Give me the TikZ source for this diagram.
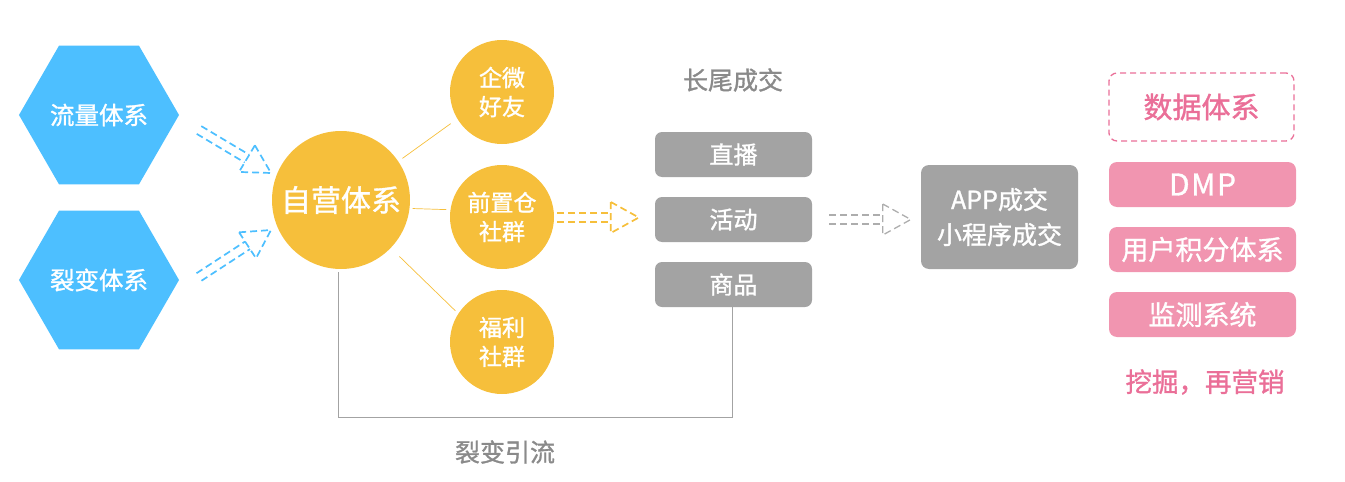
\documentclass[tikz,border=0pt]{standalone}
\usepackage{fontspec}
\setmainfont{Noto Sans CJK SC}[FakeBold=1.2]
\usetikzlibrary{shapes.geometric,calc}
\definecolor{hexblue}{HTML}{4DBFFF}
\definecolor{gold}{HTML}{F6BF3B}
\definecolor{boxgray}{HTML}{A3A3A3}
\definecolor{labgray}{HTML}{8A8A8A}
\definecolor{pinkfill}{HTML}{F195B0}
\definecolor{pinktext}{HTML}{EA6F98}
\definecolor{arrowgray}{HTML}{ADADAD}
\newcommand{\fsz}[2]{\fontsize{#1}{#2}\selectfont}
\newcommand{\hollowarrow}[3]{%
  \coordinate (ha-b) at ($(#3)!28pt!(#2)$);
  \draw[hol,#1] ($(#2)!4.5pt!90:(#3)$) -- ($(ha-b)!4.5pt!90:(#3)$);
  \draw[hol,#1] ($(#2)!4.5pt!-90:(#3)$) -- ($(ha-b)!4.5pt!-90:(#3)$);
  \draw[hol,#1] ($(ha-b)!15.5pt!90:(#3)$) -- (#3) -- ($(ha-b)!15.5pt!-90:(#3)$) -- cycle;
}
\tikzset{
  hexnode/.style={regular polygon, regular polygon sides=6, minimum size=156pt, inner sep=0pt, fill=hexblue, text=white, font=\fsz{24.5}{30}},
  bigcirc/.style={circle, minimum size=138pt, inner sep=0pt, fill=gold, text=white, font=\fsz{30}{36}},
  smallcirc/.style={circle, minimum size=104pt, inner sep=0pt, fill=gold, text=white, font=\fsz{23}{29}, align=center},
  graybox/.style={rounded corners=7pt, fill=boxgray, minimum width=157pt, minimum height=45pt, inner sep=0pt, text=white, font=\fsz{24}{30}},
  appbox/.style={rounded corners=8pt, fill=boxgray, minimum width=157pt, minimum height=104pt, inner sep=0pt, text=white, font=\fsz{25}{35}, align=center},
  pinkbox/.style={rounded corners=8pt, fill=pinkfill, minimum width=187pt, minimum height=45pt, inner sep=0pt, text=white, font=\fsz{27}{32}},
  pinkdash/.style={rounded corners=8pt, draw=pinktext, dash pattern=on 6pt off 4pt, line width=1.3pt, minimum width=185pt, minimum height=68pt, inner sep=0pt, text=pinktext, font=\fsz{29}{34}},
  graylabel/.style={text=labgray, font=\fsz{25}{30}},
  pinklabel/.style={text=pinktext, font=\fsz{26.5}{32}},
  spoke/.style={draw=gold, line width=0.7pt},
  bracket/.style={draw=boxgray, line width=1pt},
  hol/.style={dash pattern=on 7pt off 4pt, line width=1.7pt, line join=miter},
}
\begin{document}
\begin{tikzpicture}[x=1pt,y=-1pt]
\useasboundingbox (0,0) rectangle (1345,482);
% left hexagons
\node[hexnode] (hex1) at (99,115) {流量体系};
\node[hexnode] (hex2) at (99,280) {裂变体系};
% central circle
\node[bigcirc] (zy) at (341,200) {自营体系};
% small circles
\node[smallcirc] (qw) at (502,92) {企微\\好友};
\node[smallcirc] (qz) at (502,217) {前置仓\\社群};
\node[smallcirc] (fl) at (502,342) {福利\\社群};
% gray boxes
\node[graylabel] (cj) at (733,80) {长尾成交};
\node[graybox] (zb) at (733.5,154.5) {直播};
\node[graybox] (hd) at (733.5,219.5) {活动};
\node[graybox] (sp) at (733.5,284.5) {商品};
\node[appbox] (app) at (999.5,217) {APP成交\\小程序成交};
% pink column
\node[pinkdash] (sj) at (1201.5,107) {数据体系};
\node[pinkbox, font=\fsz{30}{34}] (dmp) at (1202.5,184.5) {D\kern1.5pt M\kern1.5pt P};
\node[pinkbox] (yh) at (1202.5,249.5) {用户积分体系};
\node[pinkbox] (jc) at (1202.5,314.5) {监测系统};
\node[pinklabel] (wj) at (1205,382) {挖掘，再营销};
\node[graylabel] (lb) at (505,452) {裂变引流};
% spokes
\draw[spoke, shorten <=5pt, shorten >=8pt] (zy.34) -- (qw.211);
\draw[spoke, shorten <=3pt, shorten >=4pt] (zy.-7) -- (qz.172);
\draw[spoke, shorten <=12pt, shorten >=4pt] (zy.-44) -- (fl.147);
% bracket
\draw[bracket] ([xshift=-3pt,yshift=-3pt]zy.south) -- ++(0,145) -| ([xshift=-1.5pt]sp.south);
% hollow dashed arrows
\coordinate (a1s) at ($(hex1)+(100,15)$);
\coordinate (a1e) at ($(zy)+(-70,-27)$);
\coordinate (a2s) at ($(hex2)+(100,-3)$);
\coordinate (a2e) at ($(zy)+(-70,30)$);
\hollowarrow{hexblue}{a1s}{a1e}
\hollowarrow{hexblue}{a2s}{a2e}
\coordinate (a3s) at ($(qz.east)+(3,0.5)$);
\coordinate (a3e) at ($(hd.west |- a3s)+(-16,0)$);
\hollowarrow{gold}{a3s}{a3e}
\coordinate (a4s) at ($(hd.east)+(17,0)$);
\coordinate (a4e) at ($(app.west |- a4s)+(-10,0)$);
\hollowarrow{arrowgray,line width=1.3pt}{a4s}{a4e}
\end{tikzpicture}
\end{document}
